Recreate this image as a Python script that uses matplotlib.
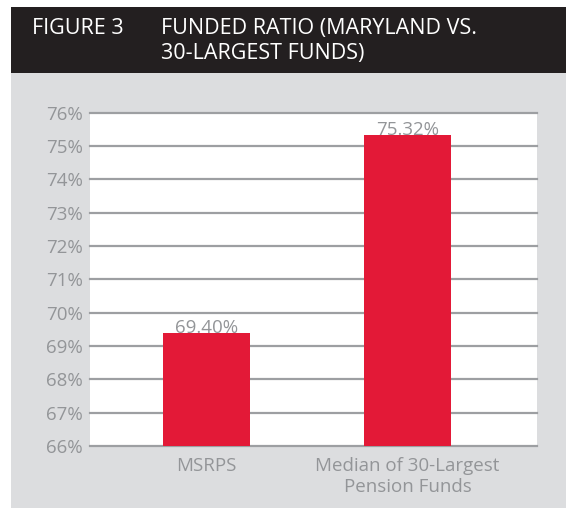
import matplotlib
matplotlib.use("Agg")
import matplotlib.pyplot as plt
from matplotlib.patches import Rectangle

# data
categories = ["MSRPS", "Median of 30-Largest\nPension Funds"]
funded = [69.40, 75.32]
value_labels = ["69.40%", "75.32%"]
yticks = list(range(66, 77))

plt.rcParams['font.family'] = ['Open Sans', 'DejaVu Sans']

gray_txt = "#939598"
grid_col = "#9d9fa2"
bar_col = "#e31937"

fig = plt.figure(figsize=(5.66, 5.08), dpi=100)
fig.patch.set_facecolor("white")

# gray panel + dark header band
fig.patches.append(Rectangle((11/566, 0), 1, 435/508, transform=fig.transFigure,
                             facecolor="#dcdddf", edgecolor="none", zorder=-5))
fig.patches.append(Rectangle((11/566, 435/508), 1, 66/508, transform=fig.transFigure,
                             facecolor="#231f20", edgecolor="none", zorder=-5))
fig.text(32/566, 1 - 34/508, "FIGURE 3", color="white", fontsize=15.5, va="baseline")
fig.text(161/566, 1 - 34/508, "FUNDED RATIO (MARYLAND VS.", color="white", fontsize=15.5, va="baseline")
fig.text(161/566, 1 - 59/508, "30-LARGEST FUNDS)", color="white", fontsize=15.5, va="baseline")

ax = fig.add_axes([90/566, 62/508, 447/566, 333.3/508])
ax.set_facecolor("white")

x = [0, 1]
ax.bar(x, funded, width=0.433, color=bar_col, zorder=3)
for xi, v, lab in zip(x, funded, value_labels):
    ax.text(xi, v, lab, ha="center", va="baseline", color=gray_txt, fontsize=13.5, zorder=2)

ax.set_ylim(66, 76)
ax.set_xlim(-0.58, 1.644)
ax.set_yticks(yticks)
ax.set_yticklabels([f"{t}%" for t in yticks])
ax.set_xticks(x)
ax.set_xticklabels(categories, linespacing=1.2)

for t in yticks:
    ax.axhline(t, color=grid_col, lw=1.6, zorder=1, clip_on=False)

for s in ax.spines.values():
    s.set_visible(False)
ax.tick_params(axis="both", length=0, colors=gray_txt, labelsize=13.5)
ax.tick_params(axis="y", pad=5)
ax.tick_params(axis="x", pad=8)

fig.savefig("out.png", dpi=100)
